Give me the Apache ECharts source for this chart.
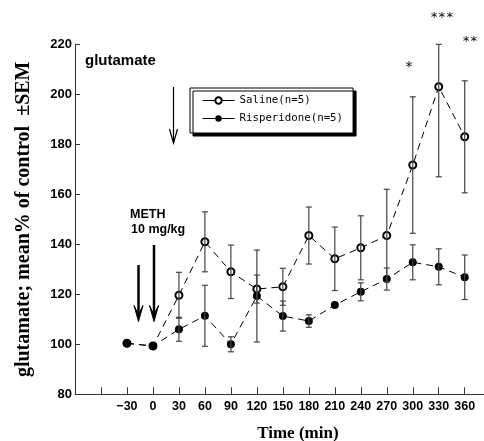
<!DOCTYPE html>
<html>
<head>
<meta charset="utf-8">
<script src="https://cdn.jsdelivr.net/npm/echarts@6/dist/echarts.min.js"></script>
<style>
html, body { margin: 0; padding: 0; background: #fff; }
#chart { width: 484px; height: 441px; }
</style>
</head>
<body>
<div id="chart"></div>
<script>
// time after METH (min)
const times = [-30, 0, 30, 60, 90, 120, 150, 180, 210, 240, 270, 300, 330, 360]
// glutamate, mean % of control
const saline = [100.4, 99.3, 119.6, 141, 129, 122.1, 123, 143.5, 134.2, 138.6, 143.5, 171.7, 203, 183]
const salineSem = [0, 0, 9.2, 12, 10.7, 5.6, 7.4, 11.4, 12.7, 12.8, 18.5, 27.3, 36, 22.4]
const risperidone = [100.4, 99.3, 106, 111.4, 100, 119.3, 111.3, 109.3, 115.7, 121, 126.1, 132.8, 131, 126.8]
const risperidoneSem = [0, 0, 4.8, 12.2, 3, 18.4, 6, 2.5, 0, 3.6, 4.4, 7, 7.2, 8.9]
const yTicks = [80, 100, 120, 140, 160, 180, 200, 220]
const xLabelled = [-30, 0, 30, 60, 90, 120, 150, 180, 210, 240, 270, 300, 330, 360]

const yMin = yTicks[0]
const yMax = yTicks[yTicks.length - 1]
const numFont = "'Liberation Sans', Arial, sans-serif"
const serifFont = "'Liberation Serif', 'DejaVu Serif', serif"
const monoFont = "'DejaVu Sans Mono', 'Liberation Mono', monospace"

function pairs(vals) {
  return times.map((t, i) => [t, vals[i]])
}
function bars(vals, sem) {
  return times.map((t, i) => [t, vals[i] - sem[i], vals[i] + sem[i]]).filter((d, i) => sem[i] > 0)
}

function errorBarItem(params, api) {
  const x = api.value(0)
  const top = api.coord([x, Math.min(api.value(2), yMax)])
  const bot = api.coord([x, Math.max(api.value(1), yMin)])
  const w = 3
  const style = { stroke: '#444', lineWidth: 1.2 }
  return {
    type: 'group',
    children: [
      { type: 'line', shape: { x1: top[0], y1: top[1], x2: bot[0], y2: bot[1] }, style },
      { type: 'line', shape: { x1: top[0] - w, y1: top[1], x2: top[0] + w, y2: top[1] }, style },
      { type: 'line', shape: { x1: bot[0] - w, y1: bot[1], x2: bot[0] + w, y2: bot[1] }, style }
    ]
  }
}

function bigArrow(x, y1, y2) {
  return [
    { type: 'line', shape: { x1: x, y1: y1, x2: x, y2: y2 - 6 }, style: { stroke: '#000', lineWidth: 2.5 } },
    { type: 'polygon', shape: { points: [[x - 4.5, y2 - 16], [x, y2 - 7], [x + 4.5, y2 - 16], [x, y2]] }, style: { fill: '#000', stroke: '#000', lineWidth: 1 } }
  ]
}

const chart = echarts.init(document.getElementById('chart'))
chart.setOption({
  animation: false,
  backgroundColor: '#fff',
  grid: { left: 75, top: 44.3, bottom: 46.7, right: -6.7, outerBoundsMode: 'none', containLabel: false },
  legend: {
    left: 190,
    top: 88,
    orient: 'vertical',
    padding: [7, 10, 9, 12],
    itemGap: 7,
    itemWidth: 32,
    itemHeight: 8,
    backgroundColor: '#fff',
    borderColor: '#000',
    borderWidth: 1,
    shadowColor: '#000',
    shadowBlur: 0,
    shadowOffsetX: 3,
    shadowOffsetY: 3,
    lineStyle: { type: 'solid', width: 1 },
    textStyle: { fontFamily: monoFont, fontSize: 10.75, color: '#000' },
    data: ['Saline(n=5)', 'Risperidone(n=5)']
  },
  xAxis: {
    type: 'value',
    min: -90,
    max: 390,
    interval: 30,
    name: 'Time (min)',
    nameLocation: 'middle',
    nameGap: 31,
    nameTextStyle: { fontFamily: serifFont, fontWeight: 'bold', fontSize: 17, color: '#000', padding: [0, 0, 0, 30] },
    axisLine: { onZero: false, lineStyle: { color: '#333', width: 1 } },
    axisTick: { inside: true, length: 7, lineStyle: { color: '#333' } },
    splitLine: { show: false },
    axisLabel: {
      margin: 6,
      fontFamily: numFont,
      fontWeight: 'bold',
      fontSize: 12.5,
      color: '#000',
      formatter: v => xLabelled.includes(v) ? (v < 0 ? '\u2212' + (-v) : String(v)) : ''
    }
  },
  yAxis: {
    type: 'value',
    min: yMin,
    max: yMax,
    interval: 20,
    name: 'glutamate; mean% of control  \u00b1SEM',
    nameLocation: 'middle',
    nameGap: 41,
    nameTextStyle: { fontFamily: serifFont, fontWeight: 'bold', fontSize: 20, color: '#000' },
    axisLine: { show: true, onZero: false, lineStyle: { color: '#333', width: 1 } },
    axisTick: { show: true, inside: true, length: 5, lineStyle: { color: '#333' } },
    splitLine: { show: false },
    axisLabel: {
      margin: 3,
      fontFamily: numFont,
      fontWeight: 'bold',
      fontSize: 13,
      color: '#000',
      formatter: v => yTicks.includes(v) ? String(v) : ''
    }
  },
  series: [
    {
      name: 'Saline(n=5)',
      type: 'line',
      data: pairs(saline),
      symbol: 'emptyCircle',
      symbolSize: 7,
      z: 2,
      itemStyle: { color: '#000', borderWidth: 1 },
      lineStyle: { color: '#000', width: 1, type: [7, 5] }
    },
    {
      name: 'Risperidone(n=5)',
      type: 'line',
      data: pairs(risperidone),
      symbol: 'circle',
      symbolSize: 8,
      z: 3,
      itemStyle: { color: '#000' },
      lineStyle: { color: '#000', width: 1, type: [7, 5] }
    },
    {
      type: 'custom',
      renderItem: errorBarItem,
      data: bars(saline, salineSem),
      z: 4,
      silent: true
    },
    {
      type: 'custom',
      renderItem: errorBarItem,
      data: bars(risperidone, risperidoneSem),
      z: 4,
      silent: true
    }
  ],
  graphic: [
    { type: 'text', left: 85, top: 53, style: { text: 'glutamate', fontFamily: numFont, fontWeight: 'bold', fontSize: 15, fill: '#000' } },
    { type: 'text', left: 130, top: 208, style: { text: 'METH', fontFamily: numFont, fontWeight: 'bold', fontSize: 12.5, fill: '#000' } },
    { type: 'text', left: 131, top: 223, style: { text: '10 mg/kg', fontFamily: numFont, fontWeight: 'bold', fontSize: 12.5, fill: '#000' } },
    { type: 'group', children: bigArrow(138.5, 265, 321.5).concat(bigArrow(154, 245, 321.5)) },
    { type: 'line', shape: { x1: 173.5, y1: 87, x2: 173.5, y2: 143 }, style: { stroke: '#000', lineWidth: 1.2 } },
    { type: 'polyline', shape: { points: [[169.5, 129], [173.5, 143], [177.5, 129]] }, style: { stroke: '#000', lineWidth: 1.2, fill: null } },
    { type: 'text', x: 409, y: 67, style: { text: '*', align: 'center', verticalAlign: 'middle', fontFamily: monoFont, fontSize: 14, fill: '#000' } },
    { type: 'text', x: 442, y: 18, style: { text: '***', align: 'center', verticalAlign: 'middle', fontFamily: monoFont, fontSize: 13, fill: '#000' } },
    { type: 'text', x: 470, y: 42, style: { text: '**', align: 'center', verticalAlign: 'middle', fontFamily: monoFont, fontSize: 13, fill: '#000' } }
  ]
})
</script>
</body>
</html>
